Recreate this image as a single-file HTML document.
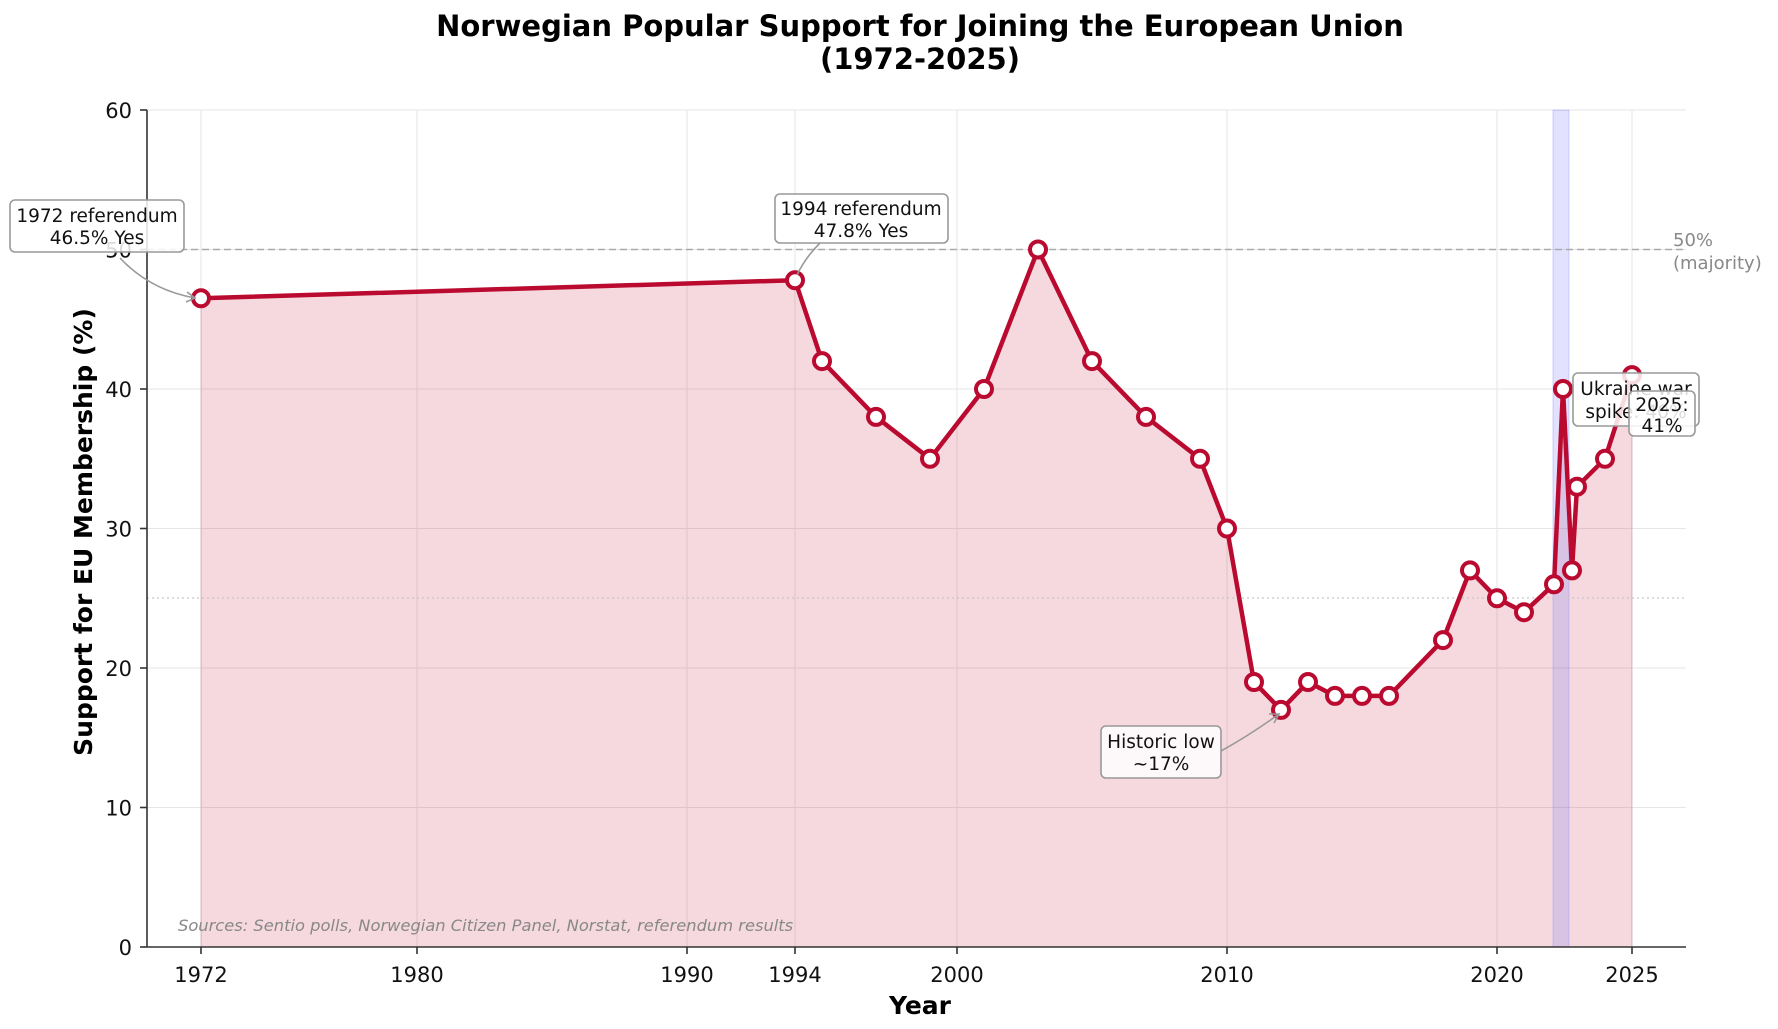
<!DOCTYPE html>
<html><head><meta charset="utf-8"><style>
html,body{margin:0;padding:0;background:#fff;}
svg{display:block;font-family:"DejaVu Sans","Liberation Sans",sans-serif;}
</style></head><body>
<svg width="1778" height="1029" viewBox="0 0 1778 1029" xmlns="http://www.w3.org/2000/svg">
<rect width="1778" height="1029" fill="#fff"/>
<g stroke="#e6e6e6" stroke-width="1">
<line x1="201" y1="110" x2="201" y2="947"/><line x1="417" y1="110" x2="417" y2="947"/>
<line x1="687" y1="110" x2="687" y2="947"/><line x1="795" y1="110" x2="795" y2="947"/>
<line x1="957" y1="110" x2="957" y2="947"/><line x1="1227" y1="110" x2="1227" y2="947"/>
<line x1="1497" y1="110" x2="1497" y2="947"/><line x1="1632" y1="110" x2="1632" y2="947"/>
<line x1="147" y1="110" x2="1686" y2="110"/><line x1="147" y1="249.5" x2="1686" y2="249.5"/>
<line x1="147" y1="389" x2="1686" y2="389"/><line x1="147" y1="528.5" x2="1686" y2="528.5"/>
<line x1="147" y1="668" x2="1686" y2="668"/><line x1="147" y1="807.5" x2="1686" y2="807.5"/>
</g>
<polygon fill="#c0103a" fill-opacity="0.16" stroke="#c0103a" stroke-opacity="0.2" points="201,947 201,298.3 795,280.2 822,361.1 876,416.9 930,458.8 984,389 1038,249.5 1092,361.1 1146,416.9 1200,458.8 1227,528.5 1254,682 1281,709.9 1308,682 1335,695.9 1362,695.9 1389,695.9 1443,640.1 1470,570.4 1497,598.3 1524,612.2 1554,584.3 1563,389 1572,570.4 1577,486.7 1605,458.8 1632,375.1 1632,947"/>
<rect x="1553" y="110" width="16" height="837" fill="#6060ff" fill-opacity="0.18" stroke="#8080ff" stroke-opacity="0.35"/>
<line x1="147" y1="249.5" x2="1686" y2="249.5" stroke="#aaa" stroke-width="1.6" stroke-dasharray="7,4"/>
<line x1="147" y1="598" x2="1686" y2="598" stroke="#c8c8c8" stroke-width="1.3" stroke-dasharray="2,3"/>
<polyline fill="none" stroke="#bb0a30" stroke-width="4.5" stroke-linejoin="round" points="201,298.3 795,280.2 822,361.1 876,416.9 930,458.8 984,389 1038,249.5 1092,361.1 1146,416.9 1200,458.8 1227,528.5 1254,682 1281,709.9 1308,682 1335,695.9 1362,695.9 1389,695.9 1443,640.1 1470,570.4 1497,598.3 1524,612.2 1554,584.3 1563,389 1572,570.4 1577,486.7 1605,458.8 1632,375.1"/>
<g fill="#fff" stroke="#bb0a30" stroke-width="4">
<circle cx="201" cy="298.3" r="8"/><circle cx="795" cy="280.2" r="8"/><circle cx="822" cy="361.1" r="8"/><circle cx="876" cy="416.9" r="8"/><circle cx="930" cy="458.8" r="8"/><circle cx="984" cy="389" r="8"/><circle cx="1038" cy="249.5" r="8"/><circle cx="1092" cy="361.1" r="8"/><circle cx="1146" cy="416.9" r="8"/><circle cx="1200" cy="458.8" r="8"/><circle cx="1227" cy="528.5" r="8"/><circle cx="1254" cy="682" r="8"/><circle cx="1281" cy="709.9" r="8"/><circle cx="1308" cy="682" r="8"/><circle cx="1335" cy="695.9" r="8"/><circle cx="1362" cy="695.9" r="8"/><circle cx="1389" cy="695.9" r="8"/><circle cx="1443" cy="640.1" r="8"/><circle cx="1470" cy="570.4" r="8"/><circle cx="1497" cy="598.3" r="8"/><circle cx="1524" cy="612.2" r="8"/><circle cx="1554" cy="584.3" r="8"/><circle cx="1563" cy="389" r="8"/><circle cx="1572" cy="570.4" r="8"/><circle cx="1577" cy="486.7" r="8"/><circle cx="1605" cy="458.8" r="8"/><circle cx="1632" cy="375.1" r="8"/>
</g>
<g stroke="#333" stroke-width="1.6">
<line x1="147" y1="110" x2="147" y2="947"/><line x1="147" y1="947" x2="1686" y2="947"/>
<line x1="140" y1="110" x2="147" y2="110"/><line x1="140" y1="249.5" x2="147" y2="249.5"/><line x1="140" y1="389" x2="147" y2="389"/><line x1="140" y1="528.5" x2="147" y2="528.5"/><line x1="140" y1="668" x2="147" y2="668"/><line x1="140" y1="807.5" x2="147" y2="807.5"/><line x1="140" y1="947" x2="147" y2="947"/>
<line x1="201" y1="947" x2="201" y2="954"/><line x1="417" y1="947" x2="417" y2="954"/><line x1="687" y1="947" x2="687" y2="954"/><line x1="795" y1="947" x2="795" y2="954"/><line x1="957" y1="947" x2="957" y2="954"/><line x1="1227" y1="947" x2="1227" y2="954"/><line x1="1497" y1="947" x2="1497" y2="954"/><line x1="1632" y1="947" x2="1632" y2="954"/>
</g>
<g font-size="21" fill="#111" text-anchor="end">
<text x="132" y="118">60</text><text x="132" y="257.5">50</text><text x="132" y="397">40</text><text x="132" y="536.5">30</text><text x="132" y="676">20</text><text x="132" y="815.5">10</text><text x="132" y="955">0</text>
</g>
<g font-size="21" fill="#111" text-anchor="middle">
<text x="201" y="982">1972</text><text x="417" y="982">1980</text><text x="687" y="982">1990</text><text x="795" y="982">1994</text><text x="957" y="982">2000</text><text x="1227" y="982">2010</text><text x="1497" y="982">2020</text><text x="1632" y="982">2025</text>
</g>
<text x="920" y="1014" font-size="25" font-weight="bold" text-anchor="middle">Year</text>
<text transform="translate(92,532) rotate(-90)" font-size="25" font-weight="bold" text-anchor="middle">Support for EU Membership (%)</text>
<text x="920" y="36" font-size="29" font-weight="bold" text-anchor="middle">Norwegian Popular Support for Joining the European Union</text>
<text x="920" y="69" font-size="29" font-weight="bold" text-anchor="middle">(1972-2025)</text>
<text x="1673" y="246" font-size="18" fill="#888">50%</text>
<text x="1673" y="269" font-size="18" fill="#888">(majority)</text>
<text x="178" y="931" font-size="16.3" font-style="italic" fill="#888">Sources: Sentio polls, Norwegian Citizen Panel, Norstat, referendum results</text>
<g fill="none" stroke="#999" stroke-width="1.6">
<path d="M120,258 Q150,290 195,298"/><path d="M187,292 L195,298 L186,302"/>
<path d="M820,243 Q805,258 797,275"/>
<path d="M1221,751 Q1250,735 1279,714"/><path d="M1269,714 L1279,714 L1274,723"/>
</g>
<g font-size="18.5" fill="#111" text-anchor="middle">
<rect x="10" y="200" width="174" height="52" rx="5" fill="#fff" fill-opacity="0.85" stroke="#999" stroke-width="1.6"/>
<text x="97" y="222">1972 referendum</text><text x="97" y="244">46.5% Yes</text>
<rect x="775" y="194" width="173" height="49" rx="5" fill="#fff" fill-opacity="0.9" stroke="#999" stroke-width="1.6"/>
<text x="861" y="215">1994 referendum</text><text x="861" y="237">47.8% Yes</text>
<rect x="1101" y="726" width="120" height="52" rx="5" fill="#fff" fill-opacity="0.8" stroke="#999" stroke-width="1.6"/>
<text x="1161" y="748">Historic low</text><text x="1161" y="770">~17%</text>
<rect x="1573" y="373" width="126" height="53" rx="5" fill="#fff" fill-opacity="0.85" stroke="#999" stroke-width="1.6"/>
<text x="1636" y="395">Ukraine war</text><text x="1636" y="418">spike: 40%</text>
<rect x="1629" y="391" width="66" height="45" rx="5" fill="#fff" fill-opacity="0.85" stroke="#999" stroke-width="1.6"/>
<text x="1662" y="411">2025:</text><text x="1662" y="432">41%</text>
</g>
</svg>
</body></html>
